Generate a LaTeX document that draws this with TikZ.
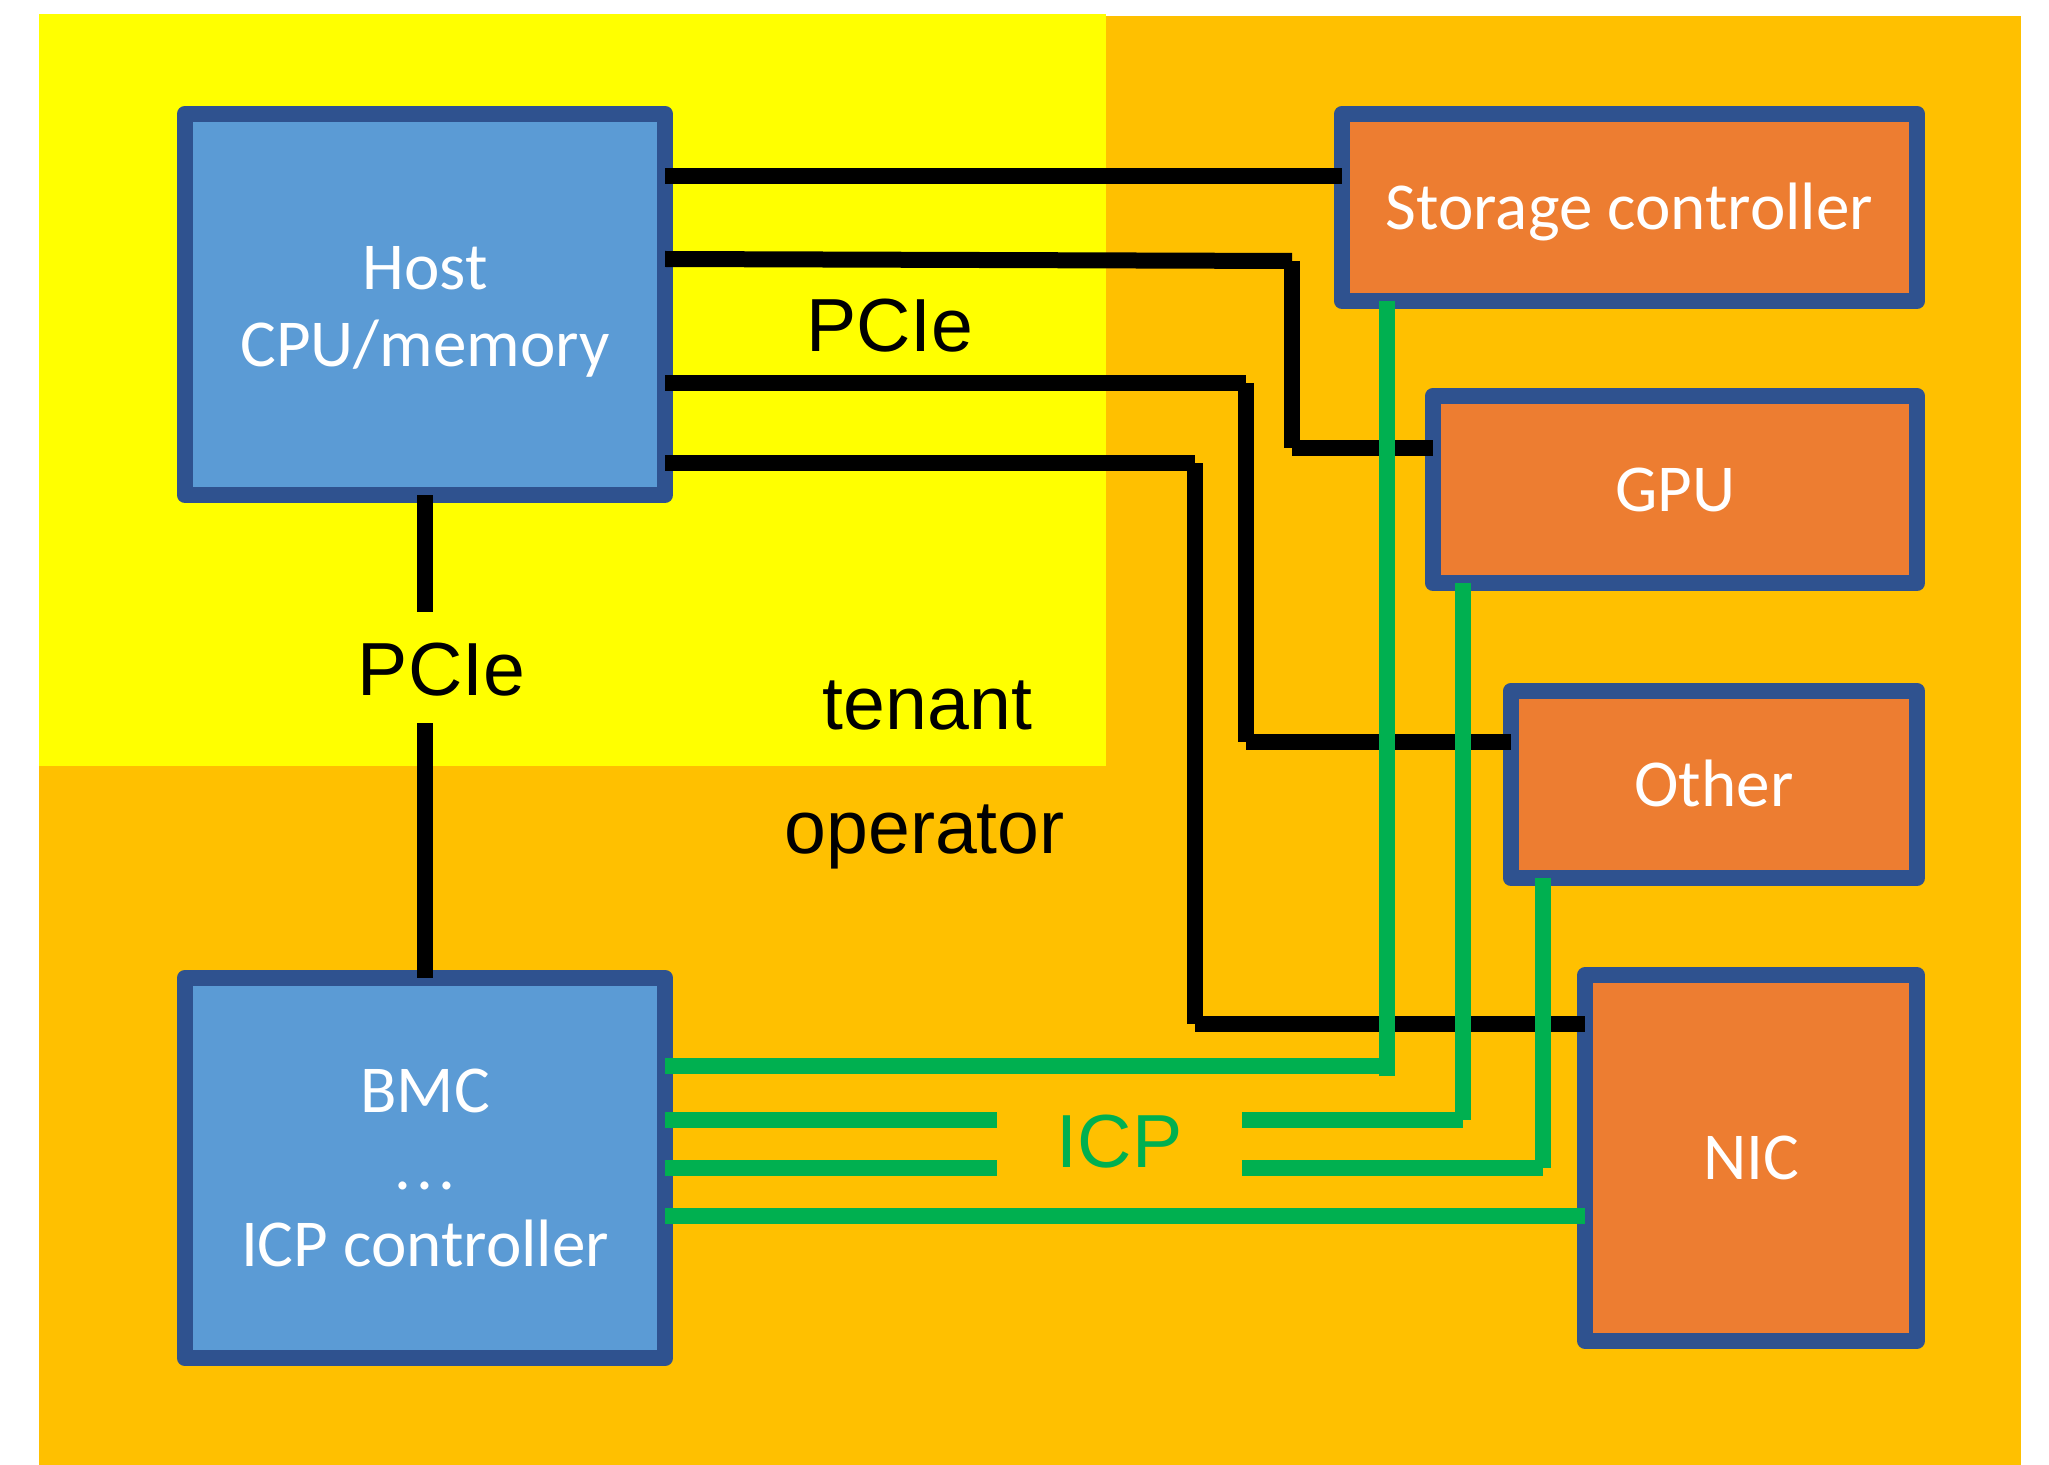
\documentclass[tikz,border=0pt]{standalone}
\usepackage{fontspec}
\newfontfamily\boxfont{Carlito}
\newfontfamily\labelfont{Liberation Sans}

\definecolor{bgorange}{HTML}{FFC000}
\definecolor{tenantyellow}{HTML}{FFFF00}
\definecolor{hostblue}{HTML}{5B9BD5}
\definecolor{devorange}{HTML}{ED7D31}
\definecolor{boxline}{HTML}{2F528F}
\definecolor{icpgreen}{HTML}{00B050}

\begin{document}
\begin{tikzpicture}[x=0.01cm, y=-0.01cm,
  unit/.style={draw=boxline, line width=4.55pt, line join=round,
    outer sep=0pt, inner sep=0pt, text=white, align=center,
    font=\boxfont\fontsize{19.07pt}{21.9pt}\selectfont},
  hostunit/.style={unit, fill=hostblue},
  devunit/.style={unit, fill=devorange, text height=12.3pt, text depth=0pt},
  pcie/.style={line width=4.55pt, black},
  icp/.style={line width=4.55pt, icpgreen},
  tag/.style={font=\labelfont\fontsize{21.4pt}{25pt}\selectfont,
    inner sep=0pt, anchor=base}]

\useasboundingbox (0,0) rectangle (2049,1464);

% operator and tenant areas
\fill[bgorange] (39,16) rectangle (2021,1470);
\fill[tenantyellow] (39,14) rectangle (1106,766);

% units
\node[hostunit, minimum width=4.80cm, minimum height=3.81cm] (host) at (425,304.5)
  {\rule{0pt}{0.57cm}Host\\CPU/memory};
\node[hostunit, minimum width=4.80cm, minimum height=3.805cm] (bmc) at (425,1168)
  {BMC\\.\kern0.08em.\kern0.08em.\\ICP controller};
\node[devunit, minimum width=5.75cm, minimum height=1.87cm] (stor) at (1629.5,207.5)
  {Storage controller};
\node[devunit, minimum width=4.84cm, minimum height=1.87cm] (gpu) at (1675,489.5) {GPU};
\node[devunit, minimum width=4.06cm, minimum height=1.87cm] (other) at (1714,784.5) {Other};
\node[devunit, minimum width=3.32cm, minimum height=3.65cm] (nic) at (1751,1158) {NIC};

% labels
\node[tag] (pcietop) at (890,352) {PCIe};
\node[tag] (pciemid) at (441.6,695) {PCIe};
\node[tag] (tenant) at (927.5,729) {tenant};
\node[tag] (operator) at (924.7,853) {operator};
\node[tag, text=icpgreen, minimum width=2.43cm] (icplabel) at (1119.5,1167) {ICP};

% PCIe links: host to BMC
\coordinate (m1) at (425,612);
\coordinate (m2) at (425,723);
\draw[pcie] (host.south) -- (m1);
\draw[pcie] (m2) -- (bmc.north);

% PCIe links: host to devices
\coordinate (r1) at (0,176);
\coordinate (r2) at (0,259);
\coordinate (r3) at (0,383);
\coordinate (r4) at (0,463);
\coordinate (b2) at (1292,261);
\coordinate (b2d) at (1292,448);
\coordinate (b3) at (1246,383);
\coordinate (b3d) at (1246,742);
\coordinate (b4) at (1195,463);
\coordinate (b4d) at (1195,1024);

\draw[pcie] (host.east |- r1) -- (stor.west |- r1);

\draw[pcie] (host.east |- r2) -- (b2);
\draw[pcie] (b2) -- (b2d);
\draw[pcie] (b2d) -- (gpu.west |- b2d);

\draw[pcie] (host.east |- r3) -- (b3);
\draw[pcie] (b3) -- (b3d);
\draw[pcie] (b3d) -- (other.west |- b3d);

\draw[pcie] (host.east |- r4) -- (b4);
\draw[pcie] (b4) -- (b4d);
\draw[pcie] (b4d) -- (nic.west |- b4d);

% ICP links: BMC to devices
\coordinate (g1) at (1387,1066);
\coordinate (g1e) at (1387,1076);
\coordinate (g2) at (1463,1120);
\coordinate (g3) at (1543,1168);
\coordinate (g4) at (0,1216);

\draw[icp] (bmc.east |- g1) -- (g1);
\draw[icp] (g1e) -- (g1e |- stor.south);

\draw[icp] (bmc.east |- g2) -- (icplabel.west |- g2);
\draw[icp] (icplabel.east |- g2) -- (g2);
\draw[icp] (g2) -- (g2 |- gpu.south);

\draw[icp] (bmc.east |- g3) -- (icplabel.west |- g3);
\draw[icp] (icplabel.east |- g3) -- (g3);
\draw[icp] (g3) -- (g3 |- other.south);

\draw[icp] (bmc.east |- g4) -- (nic.west |- g4);

\end{tikzpicture}
\end{document}
